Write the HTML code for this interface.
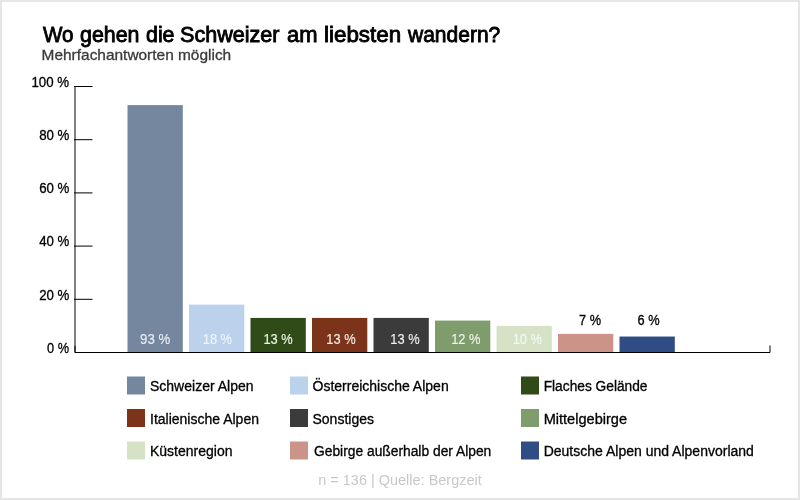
<!DOCTYPE html>
<html><head><meta charset="utf-8">
<style>
html,body{margin:0;padding:0;background:#fff;}
body{width:800px;height:500px;overflow:hidden;position:relative;}
svg{position:absolute;left:0;top:0;will-change:transform;}
text{font-family:"Liberation Sans",sans-serif;}
</style></head>
<body>
<svg width="800" height="500" viewBox="0 0 800 500">
  <rect x="0" y="0" width="800" height="500" fill="#fff"/>
  <rect x="1" y="1" width="798" height="498" fill="none" stroke="#e6e6e6" stroke-width="2"/>
<!--TITLE-->
  <g font-size="21.4" fill="#000" stroke="#000" stroke-width="0.85">
    <text x="43.00" y="41.7" textLength="30.50" lengthAdjust="spacingAndGlyphs">Wo</text>
    <text x="80.00" y="41.7" textLength="59.50" lengthAdjust="spacingAndGlyphs">gehen</text>
    <text x="146.00" y="41.7" textLength="28.50" lengthAdjust="spacingAndGlyphs">die</text>
    <text x="180.00" y="41.7" textLength="99.50" lengthAdjust="spacingAndGlyphs">Schweizer</text>
    <text x="287.00" y="41.7" textLength="30.50" lengthAdjust="spacingAndGlyphs">am</text>
    <text x="324.00" y="41.7" textLength="77.10" lengthAdjust="spacingAndGlyphs">liebsten</text>
    <text x="408.00" y="41.7" textLength="92.30" lengthAdjust="spacingAndGlyphs">wandern?</text>
  </g>
<!--/TITLE-->
  <text x="41.6" y="59.5" font-size="14.6" fill="#3a3a3a" stroke="#3a3a3a" stroke-width="0.3" textLength="189.6" lengthAdjust="spacingAndGlyphs">Mehrfachantworten möglich</text>

  <!-- y axis -->
  <g fill="#000" stroke="#000" stroke-width="0.3" font-size="14" text-anchor="end">
    <text x="69.1" y="87" textLength="37.7" lengthAdjust="spacingAndGlyphs">100 %</text>
    <text x="69.4" y="140" textLength="30.2" lengthAdjust="spacingAndGlyphs">80 %</text>
    <text x="69.4" y="193" textLength="30.2" lengthAdjust="spacingAndGlyphs">60 %</text>
    <text x="69.4" y="246" textLength="30.2" lengthAdjust="spacingAndGlyphs">40 %</text>
    <text x="69.4" y="300" textLength="30.2" lengthAdjust="spacingAndGlyphs">20 %</text>
    <text x="69" y="353" textLength="22" lengthAdjust="spacingAndGlyphs">0 %</text>
  </g>
  <line x1="75" y1="86" x2="75" y2="352.5" stroke="#000" stroke-width="1"/>
  <g stroke="#000" stroke-width="1">
    <line x1="74" y1="86.5" x2="92.5" y2="86.5"/>
    <line x1="74" y1="139.7" x2="92.5" y2="139.7"/>
    <line x1="74" y1="192.9" x2="92.5" y2="192.9"/>
    <line x1="74" y1="246.1" x2="92.5" y2="246.1"/>
    <line x1="74" y1="299.3" x2="92.5" y2="299.3"/>
  </g>

  <!-- bars -->
  <rect x="127.5" y="105.12" width="55.3" height="247.38" fill="#74879f"/>
  <rect x="189"   y="304.62" width="55.3" height="47.88" fill="#bcd2ec"/>
  <rect x="250.5" y="317.92" width="55.3" height="34.58" fill="#304b17"/>
  <rect x="312"   y="317.92" width="55.3" height="34.58" fill="#7b3419"/>
  <rect x="373.5" y="317.92" width="55.3" height="34.58" fill="#3b3b3b"/>
  <rect x="435"   y="320.58" width="55.3" height="31.92" fill="#7f9c6c"/>
  <rect x="496.5" y="325.90" width="55.3" height="26.60" fill="#d5e2c6"/>
  <rect x="558"   y="333.88" width="55.3" height="18.62" fill="#cc9488"/>
  <rect x="619.5" y="336.54" width="55.3" height="15.96" fill="#2f4c85"/>

  <!-- x axis -->
  <path d="M75,346 V352.5 H770 V345.5" fill="none" stroke="#000" stroke-width="1"/>

  <!-- bar labels -->
  <g font-size="14" text-anchor="middle" stroke-width="0.15">
    <text x="155.1" y="344" fill="#e9eef5" stroke="#e9eef5" textLength="30.1" lengthAdjust="spacingAndGlyphs">93 %</text>
    <text x="217.4" y="344" fill="#eef4fb" stroke="#eef4fb" textLength="29.3" lengthAdjust="spacingAndGlyphs">18 %</text>
    <text x="278.1" y="344" fill="#eef4e8" stroke="#eef4e8" textLength="29.3" lengthAdjust="spacingAndGlyphs">13 %</text>
    <text x="341" y="344" fill="#f4ece8" stroke="#f4ece8" textLength="29.3" lengthAdjust="spacingAndGlyphs">13 %</text>
    <text x="405" y="344" fill="#eeeeee" stroke="#eeeeee" textLength="29.3" lengthAdjust="spacingAndGlyphs">13 %</text>
    <text x="465.8" y="344" fill="#eef2ea" stroke="#eef2ea" textLength="29.3" lengthAdjust="spacingAndGlyphs">12 %</text>
    <text x="527.3" y="344" fill="#f6f9f2" stroke="#f6f9f2" textLength="29.3" lengthAdjust="spacingAndGlyphs">10 %</text>
    <text x="590" y="325" fill="#000" stroke="#000" stroke-width="0.3" textLength="22" lengthAdjust="spacingAndGlyphs">7 %</text>
    <text x="648.5" y="325" fill="#000" stroke="#000" stroke-width="0.3" textLength="22" lengthAdjust="spacingAndGlyphs">6 %</text>
  </g>

  <!-- legend -->
  <g>
    <rect x="127" y="376.5" width="18" height="18" fill="#74879f"/>
    <rect x="290" y="376.5" width="18" height="18" fill="#bcd2ec"/>
    <rect x="521" y="376.5" width="18" height="18" fill="#304b17"/>
    <rect x="127" y="409" width="18" height="18" fill="#7b3419"/>
    <rect x="290" y="409" width="18" height="18" fill="#3b3b3b"/>
    <rect x="521" y="409" width="18" height="18" fill="#7f9c6c"/>
    <rect x="127" y="441.5" width="18" height="18" fill="#d5e2c6"/>
    <rect x="290" y="441.5" width="18" height="18" fill="#cc9488"/>
    <rect x="521" y="441.5" width="18" height="18" fill="#2f4c85"/>
  </g>
  <g font-size="14" fill="#000" stroke="#000" stroke-width="0.3">
    <text x="150" y="391">Schweizer Alpen</text>
    <text x="312.5" y="391">Österreichische Alpen</text>
    <text x="543.7" y="391" textLength="103.8" lengthAdjust="spacingAndGlyphs">Flaches Gelände</text>
    <text x="150" y="424">Italienische Alpen</text>
    <text x="312.5" y="424">Sonstiges</text>
    <text x="543.7" y="424" textLength="83.3" lengthAdjust="spacingAndGlyphs">Mittelgebirge</text>
    <text x="150" y="456">Küstenregion</text>
    <text x="314" y="456" textLength="177.3" lengthAdjust="spacingAndGlyphs">Gebirge außerhalb der Alpen</text>
    <text x="543.7" y="456">Deutsche Alpen und Alpenvorland</text>
  </g>
  <text x="400" y="485" font-size="14" fill="#c8c8c8" text-anchor="middle" textLength="163.5" lengthAdjust="spacingAndGlyphs">n = 136 | Quelle: Bergzeit</text>
</svg>
</body></html>
